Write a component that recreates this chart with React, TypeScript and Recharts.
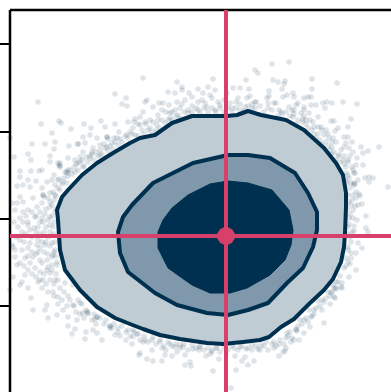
import { ScatterChart, Scatter, XAxis, YAxis } from 'recharts'

const NAVY = '#00304f'
const CRIMSON = '#d6406a'

// x then y
const samples = [
  [28,290],[31,268],[49,271],[51,269],[61,263],[74,268],[81,264],[91,271],[105,298],[116,294],[112,288],[117,286],[105,268],[95,265],[118,270],
  [0,254],[42,259],[22,248],[35,248],[45,250],[59,246],[68,248],[73,255],[18,238],[4,235],[21,232],[40,236],[40,230],[44,243],[10,221],[21,221],[29,221],[32,222],[48,229],[50,226],[57,219],[44,217],[10,215],[7,206],[13,207],[18,212],[26,211],[20,205],[37,210],[42,212],[48,212],[32,204],[33,197],[40,199],[23,194],[10,195],[2,189],[7,189],[13,190],[5,182],[13,180],[18,182],[27,185],[32,189],[40,185],[10,174],[18,170],[25,175],[32,174],[40,175],[45,180],[40,167],
  [73,240],[70,235],[65,232],[68,229],[82,240],[87,254],[97,255],[102,249],[107,254],[109,260],[117,257],[80,257],[90,247],[83,244],[65,220],[73,225],[58,234],[53,210],[50,202],[45,197],[75,249],[97,245],[90,237],[80,234],[50,225],[57,209],
  [3,145],[5,135],[7,127],[20,149],[28,140],[32,129],[43,137],[40,119],[30,112],[18,104],[21,94],[0,102],[3,115],[12,110],[10,107],[15,117],[25,124],[23,82],[37,87],[35,82],[38,74],[43,100],[48,95],[55,109],[63,107],[47,77],[53,82],[57,86],[58,75],[58,66],[65,63],[62,58],[67,72],[73,79],[76,82],[87,75],[75,53],[76,60],[87,59],[92,52],[83,62],[100,66],[105,57],[108,60],[118,62],[70,89],[63,87],[45,112],[33,112],[10,129],[15,134],[20,129],[23,135],[30,132],[37,132],[42,127],[47,127],[37,122],[5,142],[2,147],[12,142],[18,144],[27,147],[35,147],[45,142],[42,149],[18,167],[28,165],[13,170],[33,170],[43,165],[45,150],
  [133,314],[167,310],[172,305],[172,302],[165,299],[158,300],[179,299],[188,303],[193,299],[198,305],[203,313],[205,302],[200,297],[217,299],[223,304],[230,304],[236,312],[239,303],[245,322],[248,319],[182,295],[188,290],[137,292],[135,290],[143,285],[149,289],[153,289],[159,287],[167,290],[175,292],[195,289],[202,294],[208,290],[220,289],[228,294],[237,294],[245,290],[130,275],[133,280],[125,273],[135,270],[143,270],[148,277],[152,282],[160,279],[165,282],[170,284],[178,282],[188,282],[197,285],[205,282],[210,284],[222,284],[230,282],[235,285],[245,284],[155,269],[147,267],[132,262],[123,264],[130,267],[120,260],[125,257],[140,264],[160,274],[168,277],
  [262,328],[279,330],[263,312],[268,310],[275,311],[274,308],[302,313],[327,309],[272,303],[302,303],[259,301],[283,299],[277,297],[273,295],[301,295],[259,296],[257,294],[284,295],[294,294],[298,295],[258,289],[266,289],[286,287],[294,285],[306,287],[313,289],[317,290],[322,289],[333,290],[347,288],[315,284],[301,287],[269,282],[283,275],[293,273],[294,282],[299,279],[308,275],[321,271],[324,271],[341,273],[304,265],[311,265],[314,257],[328,264],[325,261],[338,265],[319,254],[334,255],[338,255],[326,250],[336,249],[342,250],[322,245],[334,245],[339,244],[351,245],[358,241],[369,245],[343,240],[329,237],[353,239],[347,234],[333,232],[338,230],[346,227],[353,227],[336,219],[345,219],[355,214],[359,215],[363,214],[359,210],[341,209],[345,208],[336,212],[264,289],[271,280],[279,285],[288,289],[284,282],[291,279],[296,272],[303,270],[308,265],[316,262],[323,254],[331,242],
  [378,205],[338,217],[344,219],[344,209],[337,209],[343,197],[349,198],[346,194],[341,187],[348,187],[343,182],[356,176],[339,174],[343,174],[338,165],[356,164],[358,160],[344,161],[341,150],[348,149],[352,144],[338,142],[341,139],[346,139],[341,134],[336,134],[346,122],[339,115],[326,110],[331,105],[326,104],[321,99],[324,95],
  [123,62],[127,58],[123,55],[135,52],[133,50],[130,39],[129,37],[142,42],[137,33],[143,31],[152,31],[152,44],[156,42],[155,37],[162,36],[165,45],[173,45],[183,43],[189,42],[196,36],[202,42],[209,33],[180,30],[175,27],[181,26],[203,21],[226,22],[221,4],[224,44],[236,43],[225,36],[232,31],[238,27],[235,35],[244,31],[248,43],[167,40],[175,37],[190,45],[207,44],[170,47],[160,48],[150,50],[143,55],[200,38],[230,45],[242,47],
  [332,109],[332,104],[326,103],[322,100],[325,94],[320,88],[314,90],[312,82],[308,91],[304,82],[299,82],[301,75],[314,69],[300,65],[294,59],[294,72],[290,72],[286,63],[287,61],[277,59],[289,52],[284,52],[281,50],[269,48],[264,50],[264,44],[276,44],[273,40],[275,41],[269,36],[256,50],[251,47],[323,107],
  // denser band hugging the outer contour
  [42,187],[44,192],[46,196],[40,190],[38,194],[43,200],[48,204],[45,207],[52,208],[49,213],[54,214],[58,216],[55,220],[60,222],[62,218],[64,225],[68,222],[66,228],[70,230],[74,226],[72,232],[76,235],[78,230],[80,236],[84,232],[82,238],[86,240],[88,236],[90,242],[92,238],[95,244],[98,241],[94,248],[100,246],[103,243],[105,250],[108,247],[110,253],[112,250],[115,256],[118,254],[104,254],
  [49,227],[50,229],[57,220],[58,222],[68,248],[97,255],[98,253],[33,197],[34,195],
  [30,180],[35,178],[38,172],[42,176],[44,170],[46,183],[36,165],[40,160],[44,158],[38,155],[34,160],[30,158],[26,160],[22,155],[28,152],[32,150],[36,150],[40,146],[44,140],[46,136],[47,130],[42,135],[38,138],[34,140],[30,144],[26,138],[22,140],[18,136],[14,150],[10,152],[6,155],[16,158],[20,162],[12,160],[8,165],[4,170],[16,176],[22,180],[26,176],[30,170],[36,183],[24,164],[14,126],[18,122],[22,118],[26,115],[30,120],[34,118],[38,125],[42,122],[46,118],[48,112],[44,108],[40,112],[36,108],[32,104],[28,110],[38,100],[44,96],[50,104],[54,100],[58,96],[52,92],[48,88],
  [60,92],[64,86],[68,92],[72,88],[66,80],[70,78],[74,74],[78,80],[82,72],[86,68],[84,78],[90,74],[94,68],[96,72],[100,64],[104,68],[108,64],[112,66],[110,56],[116,60],[120,56],[124,60],[128,58],[116,52],[122,48],[77,80],[78,78],[87,75],[85,73],[100,66],[102,64],
  [130,52],[134,56],[138,50],[142,52],[146,48],[150,52],[154,46],[158,50],[162,46],[166,48],[170,44],[174,48],[178,42],[182,47],[186,44],[190,46],[194,42],[198,44],[202,40],[206,44],[210,40],[214,44],[218,42],[222,46],[228,42],[232,46],[238,44],[242,42],[246,46],[250,42],[254,46],[258,42],[262,48],[266,46],[270,52],[274,48],[278,56],[282,54],
  [286,62],[288,66],[292,68],[296,74],[298,70],[302,76],[306,84],[304,78],[310,86],[312,92],[316,94],[318,100],[320,96],[324,104],[328,110],[330,116],[334,124],[338,130],[336,126],[340,128],[280,60],[276,54],
  [338,145],[340,155],[342,160],[339,168],[344,166],[347,172],[340,178],[345,186],[339,190],[342,192],[346,200],[340,204],[344,207],[339,214],[343,222],[348,212],[336,225],[338,232],[342,225],[340,236],[334,236],[350,196],[352,188],[338,197],[337,183],[338,158],
  [280,276],[284,278],[288,272],[292,270],[286,268],[296,268],[298,264],[302,262],[304,258],[306,254],[308,258],[310,252],[312,248],[316,250],[318,246],[320,242],[322,238],[324,240],[328,236],[326,232],[330,230],[334,228],[318,258],[322,250],[312,262],[300,272],[294,276],[282,282],[276,280],[272,278],[268,276],[262,282],[258,284],[254,280],[250,286],[246,290],[242,288],
  [122,258],[128,256],[134,258],[138,262],[142,260],[146,262],[150,264],[154,262],[158,272],[162,272],[166,276],[170,274],[174,280],[178,279],[182,280],[186,284],[190,280],[194,284],[198,280],[202,284],[206,280],[210,287],[214,280],[218,284],[222,280],[226,284],[230,288],[234,281],[238,286],[242,284],[136,268],[128,268],[124,270],[148,272],[152,272],[156,280],[140,272],[162,280],[172,288],[182,286],[192,292],[214,292],[226,290],[240,296],
]

const outerContour = [
  [47,182],[52,195],[58,202],[72,217],[87,229],[103,239],[120,249],[130,254],[145,257],[162,269],[182,276],[217,276],[227,277],[238,281],[251,277],[276,272],[294,262],[314,244],[326,229],[333,217],[336,199],[336,185],[335,159],[334,145],[331,130],[323,113],[314,102],[299,88],[284,73],[271,65],[259,55],[250,52],[233,50],[213,48],[197,49],[170,53],[150,57],[133,63],[120,68],[105,74],[87,85],[70,102],[55,122],[50,142],[48,172],
]
const middleContour = [
  [108,160],[113,175],[122,187],[143,209],[183,229],[218,237],[238,237],[260,234],[285,219],[298,199],[307,180],[307,162],[303,145],[293,124],[277,109],[258,89],[238,82],[218,77],[197,79],[167,87],[145,99],[118,120],[110,139],
]
const innerContour = [
  [148,160],[148,144],[158,124],[182,107],[200,99],[220,99],[237,104],[260,117],[275,132],[281,147],[283,162],[279,182],[262,202],[238,209],[218,211],[200,208],[178,197],[162,184],[153,172],
]

const truthX = 216
const truthY = 156
const xMax = 381
const yMax = 382
const yTicks = [86, 173, 260, 348]

const toPoints = (list: number[][]) => list.map(([x, y]) => ({ x, y }))

// closes the joint line of a scatter into a filled contour
const contourLine = (fill: string, width: number) => (props: any) => (
  <polygon
    points={props.points.map((p: any) => `${p.x},${p.y}`).join(' ')}
    fill={fill}
    stroke={NAVY}
    strokeWidth={width}
    strokeLinejoin="round"
  />
)

const noDot = () => <g />

export default function App() {
  return (
    <div style={{ position: 'absolute', left: 0, top: 0, width: 391, height: 392 }}>
      <ScatterChart width={391} height={392} margin={{ top: 9, right: 0, bottom: 0, left: 9 }}>
        <XAxis
          type="number"
          dataKey="x"
          orientation="top"
          domain={[0, xMax]}
          height={1}
          tick={false}
          tickLine={false}
          axisLine={{ stroke: '#000', strokeWidth: 2.5 }}
        />
        <YAxis
          type="number"
          dataKey="y"
          domain={[0, yMax]}
          ticks={yTicks}
          interval={0}
          width={1}
          tick={noDot}
          tickSize={10}
          tickLine={{ stroke: '#000', strokeWidth: 2 }}
          axisLine={{ stroke: '#000', strokeWidth: 2.5 }}
        />
        <Scatter
          data={toPoints(samples)}
          isAnimationActive={false}
          shape={(p: any) => <circle cx={p.cx} cy={p.cy} r={2.8} fill={NAVY} fillOpacity={0.13} />}
        />
        <Scatter data={toPoints(outerContour)} isAnimationActive={false} shape={noDot} line={contourLine('#bfccd4', 4)} />
        <Scatter data={toPoints(middleContour)} isAnimationActive={false} shape={noDot} line={contourLine('#7f98ab', 4)} />
        <Scatter data={toPoints(innerContour)} isAnimationActive={false} shape={noDot} line={contourLine(NAVY, 1)} />
        <Scatter
          data={toPoints([[truthX, 0], [truthX, yMax]])}
          isAnimationActive={false}
          shape={noDot}
          line={{ stroke: CRIMSON, strokeWidth: 4 }}
        />
        <Scatter
          data={toPoints([[0, truthY], [xMax, truthY]])}
          isAnimationActive={false}
          shape={noDot}
          line={{ stroke: CRIMSON, strokeWidth: 4 }}
        />
        <Scatter
          data={[{ x: truthX, y: truthY }]}
          isAnimationActive={false}
          shape={(p: any) => <circle cx={p.cx} cy={p.cy} r={9} fill={CRIMSON} />}
        />
      </ScatterChart>
    </div>
  )
}
